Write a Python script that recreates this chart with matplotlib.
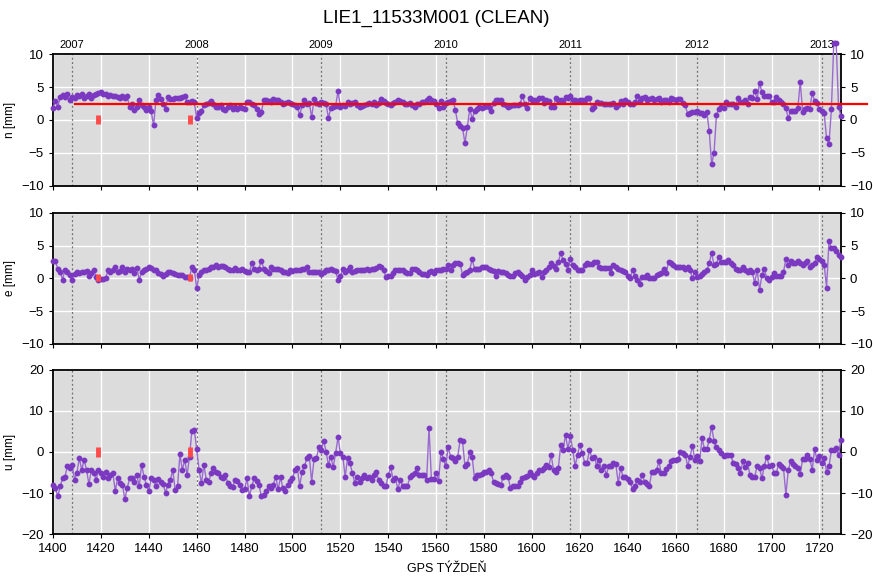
import matplotlib
matplotlib.use("Agg")
import matplotlib.pyplot as plt
import numpy as np

plt.rcParams['font.family'] = ['Liberation Sans', 'DejaVu Sans']

title = "LIE1_11533M001 (CLEAN)"
x_label = "GPS TÝŽDEŇ"
y_labels = ["n [mm]", "e [mm]", "u [mm]"]

# first GPS week of each year
year_weeks = [1408, 1460, 1512, 1564, 1616, 1669, 1721]
year_names = ["2007", "2008", "2009", "2010", "2011", "2012", "2013"]

# weekly solutions, GPS weeks 1400..1729
weeks = list(range(1400, 1730))

n_vals = [
    1.8, 2.9, 2.0, 3.5, 3.8, 3.5, 3.9, 3.0, 3.5, 3.3,
    3.8, 3.6, 3.9, 3.4, 3.6, 3.9, 3.3, 3.8, 4.0, 4.1,
    4.2, 4.0, 3.9, 3.7, 3.8, 3.6, 3.7, 3.5, 3.4, 3.6,
    3.3, 3.6, 1.9, 2.5, 1.5, 2.0, 3.0, 2.2, 1.9, 1.5,
    1.9, 1.3, -0.8, 3.0, 3.8, 3.2, 2.5, 1.7, 3.5, 3.2,
    3.2, 3.3, 3.4, 3.3, 3.5, 3.6, 2.8, 2.7, 2.9, 2.7,
    0.3, 1.0, 1.4, 2.2, 2.4, 2.6, 2.9, 2.4, 1.9, 2.0,
    2.2, 1.7, 1.5, 2.0, 2.2, 1.7, 1.9, 1.7, 1.9, 1.8,
    1.7, 2.7, 2.7, 2.4, 2.2, 1.7, 0.9, 1.2, 3.0, 3.0,
    2.9, 2.7, 3.2, 3.1, 3.0, 2.7, 2.5, 2.6, 2.7, 2.6,
    2.5, 2.3, 2.0, 0.7, 2.2, 3.0, 2.5, 2.6, 0.4, 3.2,
    2.6, 2.5, 2.8, 2.6, 2.5, 0.3, 1.8, 1.9, 2.1, 4.4,
    2.0, 2.2, 2.1, 2.7, 2.4, 2.6, 2.8, 2.2, 1.9, 2.1,
    2.2, 2.4, 2.6, 2.5, 2.7, 2.3, 2.6, 3.2, 2.9, 2.6,
    2.4, 2.2, 2.6, 2.7, 3.1, 2.9, 2.8, 2.5, 2.4, 2.6,
    2.3, 2.0, 2.5, 2.4, 2.7, 2.8, 3.0, 3.3, 3.0, 2.9,
    2.5, 1.8, 2.9, 2.0, 2.6, 2.8, 2.9, 3.0, 1.5, -0.5,
    -0.9, -1.2, -3.5, -1.1, 1.7, 0.2, 1.3, 1.6, 1.9, 1.8,
    2.0, 2.1, 2.0, 1.3, 2.6, 3.1, 3.0, 3.0, 2.4, 2.2,
    1.9, 2.1, 2.2, 2.3, 2.3, 2.4, 3.7, 2.4, 1.8, 3.4,
    3.1, 3.1, 3.0, 3.3, 3.3, 2.6, 3.1, 2.9, 2.0, 2.0,
    3.4, 3.1, 3.1, 2.9, 3.5, 3.3, 3.7, 3.1, 3.1, 2.9,
    3.0, 3.1, 3.0, 3.4, 3.3, 1.6, 1.9, 2.7, 2.6, 2.6,
    2.5, 2.5, 2.4, 2.4, 2.6, 1.9, 2.3, 2.9, 2.5, 3.0,
    2.7, 2.4, 2.5, 2.7, 3.7, 2.9, 3.3, 3.5, 3.1, 3.2,
    3.3, 3.1, 3.2, 3.4, 2.7, 3.0, 3.0, 2.8, 3.3, 3.2,
    3.1, 3.2, 3.2, 2.6, 2.2, 0.9, 1.0, 1.2, 1.2, 1.4,
    1.1, 1.1, 0.7, 1.2, -1.7, -6.7, -5.0, 0.7, 1.7, 1.9,
    1.8, 2.7, 2.4, 2.4, 2.4, 2.0, 3.4, 2.7, 2.8, 3.1,
    2.5, 3.5, 3.4, 4.4, 3.2, 5.6, 4.2, 3.6, 3.6, 3.6,
    2.8, 2.8, 3.5, 3.0, 2.8, 2.5, 1.8, 0.3, 1.3, 1.3,
    1.3, 1.8, 5.8, 1.2, 1.6, 1.8, 1.7, 4.1, 2.9, 2.6,
    1.7, 1.3, 1.0, -2.8, -3.6, 1.6, 11.6, 11.6, 2.0, 0.6,
]

e_vals = [
    2.7, 2.6, 1.5, 1.0, -0.2, 1.3, 1.0, 0.5, -0.2, 0.7,
    1.0, 0.8, 0.9, 0.9, 1.1, 0.4, 0.8, 1.2, 0.2, -0.2,
    -0.1, -0.1, 0.0, 1.3, 1.0, 1.2, 1.7, 0.9, 1.1, 1.7,
    0.9, 1.4, 1.2, 1.5, 0.8, 1.6, -0.2, 1.0, 1.2, 1.5,
    1.7, 1.6, 1.3, 1.3, 0.8, 0.6, 0.4, 0.6, 1.0, 0.9,
    0.8, 0.6, 0.5, 0.5, 0.5, 0.2, 0.2, 0.1, 1.8, 1.3,
    -1.5, 0.5, 1.0, 1.2, 1.3, 1.5, 1.7, 1.8, 2.0, 1.8,
    1.9, 1.9, 1.8, 1.5, 1.2, 1.3, 1.6, 1.3, 1.2, 1.5,
    1.1, 1.0, 0.9, 2.3, 1.5, 1.3, 1.5, 2.7, 1.5, 1.1,
    0.8, 1.7, 1.5, 1.5, 1.5, 1.3, 1.0, 0.9, 0.8, 1.2,
    1.1, 1.2, 1.3, 1.3, 1.4, 1.4, 1.7, 0.9, 0.9, 0.9,
    0.9, 0.9, 0.7, 1.0, 1.3, 1.2, 1.4, 1.2, 1.1, -0.2,
    0.3, 1.5, 1.0, 1.2, 1.7, 0.9, 1.1, 1.3, 1.2, 1.2,
    1.2, 1.5, 1.2, 1.4, 1.5, 1.6, 1.9, 1.8, 1.3, 0.2,
    0.3, 0.3, 0.8, 1.2, 1.3, 1.3, 1.3, 1.0, 0.8, 0.8,
    1.5, 1.5, 1.3, 1.0, 0.6, 0.6, 0.5, 0.9, 1.1, 0.8,
    1.3, 1.2, 1.3, 1.4, 1.5, 2.0, 1.3, 2.0, 2.4, 2.3,
    2.2, 0.5, 0.8, 1.0, 1.3, 2.9, 1.5, 1.5, 1.5, 1.8,
    1.8, 1.7, 1.5, 1.3, 1.1, 0.4, 1.1, 1.0, 0.9, 0.8,
    0.5, 0.4, 0.3, 0.8, 0.9, 0.6, 0.3, -0.2, 0.2, 0.5,
    1.3, 0.7, 0.8, 0.9, 0.2, 0.9, 1.3, 1.8, 2.4, 1.9,
    1.5, 2.5, 3.8, 2.8, 2.2, 1.3, 2.9, 2.0, 1.7, 1.3,
    1.3, 1.3, 2.0, 2.4, 2.2, 2.2, 2.5, 2.5, 1.7, 1.6,
    1.6, 1.6, 1.6, 0.8, 2.0, 1.8, 1.5, 1.3, 1.1, 0.9,
    0.3, 0.0, 1.3, 0.3, -0.2, -0.8, 0.2, 0.2, 0.5, 0.0,
    0.0, 0.0, 0.5, 0.6, 0.8, 1.5, 0.8, 2.5, 2.3, 2.1,
    1.8, 1.8, 1.8, 1.8, 1.5, 1.7, 1.2, 0.0, 1.0, 0.2,
    0.4, 0.6, 0.9, 1.3, 2.3, 3.9, 2.0, 2.2, 3.3, 2.5,
    2.5, 2.5, 2.8, 2.4, 2.0, 1.5, 1.3, 1.3, 1.8, 1.2,
    1.0, 1.3, 0.9, -0.7, 1.3, -1.8, 0.5, 1.5, 0.0, -0.2,
    0.2, 0.8, 0.3, 0.4, 0.3, 0.9, 3.0, 2.0, 2.7, 2.4,
    2.3, 2.6, 2.4, 2.0, 2.3, 2.7, 1.7, 2.0, 2.3, 3.3,
    2.9, 2.7, 2.0, -1.4, 5.7, 4.6, 4.6, 4.1, 3.6, 3.3,
]

u_vals = [
    -8.0, -8.8, -10.8, -8.4, -6.4, -6.0, -3.5, -4.0, -3.1, -6.8,
    -5.0, -1.5, -4.4, -1.9, -4.4, -7.8, -4.4, -5.0, -6.8, -4.4,
    -5.0, -6.0, -4.8, -6.4, -5.5, -5.2, -9.5, -6.4, -7.6, -8.0,
    -11.5, -8.8, -6.4, -6.4, -7.2, -5.6, -8.4, -3.1, -6.0, -8.0,
    -9.6, -6.4, -6.8, -8.4, -6.6, -7.2, -7.8, -9.9, -8.0, -6.8,
    -4.4, -9.2, -8.4, -0.5, -4.4, -1.9, -5.6, -1.1, 5.2, 5.4,
    0.7, -4.4, -7.6, -3.1, -6.8, -7.2, -5.2, -3.9, -4.8, -5.2,
    -6.0, -6.4, -5.6, -7.6, -8.4, -8.6, -6.8, -7.0, -8.0, -9.2,
    -9.1, -6.4, -10.8, -8.4, -6.4, -7.0, -8.0, -10.8, -10.4, -9.6,
    -8.4, -8.8, -8.0, -6.0, -9.1, -6.2, -8.8, -9.6, -8.0, -7.0,
    -6.4, -4.4, -3.9, -8.3, -4.8, -3.5, -1.5, -0.9, -7.2, -1.7,
    -1.5, 1.2, 0.4, 2.8, 0.1, -3.1, -1.1, -3.7, -0.3, 3.6,
    -0.3, -1.1, -6.0, -1.5, -2.7, -5.2, -7.6, -6.0, -7.2, -6.4,
    -5.6, -6.4, -6.0, -6.8, -5.6, -4.8, -6.8, -7.6, -8.3, -8.4,
    -5.6, -3.7, -6.8, -6.4, -9.1, -6.8, -8.3, -8.3, -8.3, -6.2,
    -5.6, -5.0, -3.9, -5.6, -5.6, -5.6, -6.8, 5.8, -6.6, -6.6,
    -5.0, -7.0, 0.1, -1.7, -3.5, 1.2, -1.1, -1.5, -2.3, -1.1,
    3.0, 2.6, -3.4, -2.9, -0.1, -1.1, -6.4, -5.6, -5.6, -5.3,
    -4.8, -4.8, -4.5, -5.2, -7.4, -7.6, -7.8, -8.0, -6.0, -5.6,
    -6.0, -8.8, -8.3, -8.4, -8.3, -7.2, -6.4, -6.0, -5.8, -4.8,
    -5.6, -6.2, -5.2, -4.5, -4.4, -3.9, -3.1, -3.7, -0.7, -4.5,
    -4.8, -3.9, 1.7, 0.5, 4.2, 0.7, 3.9, 0.5, -3.4, -0.7,
    1.7, -0.3, -2.6, -2.6, 0.5, -1.5, -1.1, -3.4, -1.9, -4.4,
    -3.4, -5.6, -3.5, -3.5, -2.6, -2.9, -7.6, -3.9, -6.0, -6.2,
    -6.6, -7.2, -9.1, -8.3, -6.8, -7.4, -5.6, -7.2, -7.8, -8.4,
    -4.8, -4.8, -4.4, -2.3, -5.2, -5.0, -4.2, -3.4, -2.1, -1.9,
    -1.9, -1.7, -0.1, -0.3, -0.7, -3.4, -1.1, 1.5, -1.9, -0.9,
    -2.3, 3.4, 0.7, 0.7, 3.0, 6.2, 2.6, 1.2, 0.5, -0.3,
    -0.9, -0.7, -0.7, -0.7, -2.7, -2.9, -3.9, -5.2, -2.3, -3.7,
    -2.7, -5.6, -6.0, -6.0, -3.4, -3.9, -6.4, -3.4, -1.1, -3.4,
    -3.1, -5.0, -5.2, -2.9, -3.4, -3.9, -10.4, -4.4, -2.3, -2.9,
    -3.4, -3.9, -5.3, -1.7, -1.7, -0.7, -1.7, -4.4, 0.7, -1.9,
    -0.9, -2.7, -1.5, -4.8, -3.5, 0.4, 0.5, 0.9, -0.7, 3.0,
]

series = [n_vals, e_vals, u_vals]
y_limits = [(-10, 10), (-10, 10), (-20, 20)]
y_steps = [5, 5, 10]

# equipment change markers (week, low, high) per panel
event_weeks = [1419, 1457]
event_ranges = [(-0.6, 0.8), (-0.4, 0.7), (-1.1, 1.1)]

# mean line in the north panel
mean_n = 2.4
mean_start = 1409

axes_boxes = [
    (0.0607, 0.6788, 0.9026, 0.2279),
    (0.0607, 0.4059, 0.9026, 0.2267),
    (0.0607, 0.0777, 0.9026, 0.2833),
]

fig = plt.figure(figsize=(8.73, 5.79), dpi=100)
fig.text(0.5, 0.968, title, ha='center', va='center', fontsize=13.5)

purple = '#7b38c0'
line_purple = '#9a6ad0'

for i, box in enumerate(axes_boxes):
    ax = fig.add_axes(box)
    ax.set_facecolor('#dcdcdc')
    lo, hi = y_limits[i]
    ax.set_xlim(1400, 1729)
    ax.set_ylim(lo, hi)
    ax.set_yticks(np.arange(lo, hi + 1, y_steps[i]))
    ax.set_xticks(np.arange(1400, 1730, 20))
    ax.grid(True, color='white', linewidth=1.0)
    ax.set_axisbelow(True)
    for yw in year_weeks:
        ax.axvline(yw, color='#707070', linestyle=(0, (1.5, 2)), linewidth=0.9, zorder=1)

    ax.plot(weeks, series[i], color=line_purple, linewidth=1.0, zorder=3, clip_on=False)
    ax.plot(weeks, series[i], linestyle='none', marker='o', markersize=3.2,
            color=purple, zorder=4, clip_on=False)

    ev_lo, ev_hi = event_ranges[i]
    for ew in event_weeks:
        ax.plot([ew, ew], [ev_lo, ev_hi], color='#ff4a4a', linewidth=3.5,
                solid_capstyle='butt', zorder=5)

    if i == 0:
        ax.plot([mean_start, 1740], [mean_n, mean_n], color='red', linewidth=1.6,
                zorder=6, clip_on=False)
        for yw, yn in zip(year_weeks, year_names):
            ax.text(yw, hi + 0.6, yn, ha='center', va='bottom', fontsize=8)

    ax.set_ylabel(y_labels[i], fontsize=8.5, labelpad=4)
    ax.tick_params(axis='y', labelsize=9.5, right=True, labelright=True, length=3)
    ax.tick_params(axis='x', labelsize=9.5, length=3, labelbottom=(i == 2))
    for sp in ax.spines.values():
        sp.set_linewidth(1.3)
        sp.set_color('black')
    if i == 2:
        ax.set_xlabel(x_label, fontsize=9, labelpad=6)

fig.savefig('out.png', dpi=100)
